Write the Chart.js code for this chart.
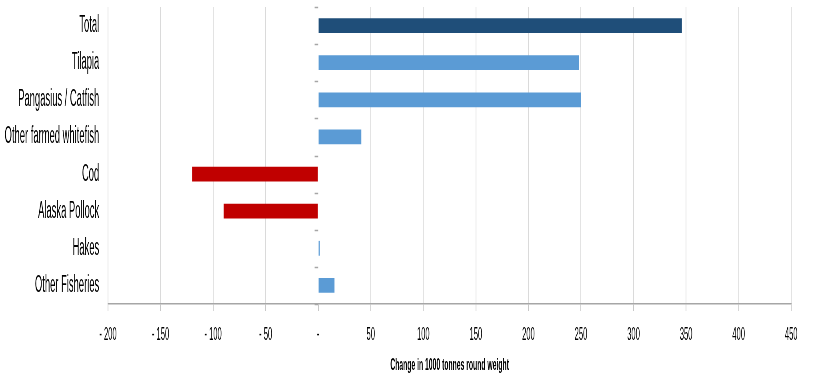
<!DOCTYPE html>
<html>
<head>
<meta charset="utf-8">
<script src="https://cdn.jsdelivr.net/npm/chart.js@4"></script>
<style>
  html, body { margin: 0; padding: 0; background: #ffffff; overflow: hidden; }
  #c { display: block; width: 820px !important; height: 378px !important; }
</style>
</head>
<body>
<canvas id="c" width="2050" height="378" style="width:820px;height:378px;display:block"></canvas>
<script>
// ---- data ----
const categories = ['Total', 'Tilapia', 'Pangasius / Catfish', 'Other farmed whitefish', 'Cod', 'Alaska Pollock', 'Hakes', 'Other Fisheries'];
const changes = [346, 248, 250, 41, -120, -90, 1.5, 15.5];
const axisMin = -200;
const axisMax = 450;
const axisStep = 50;
const tickLabels = ['- 200', '- 150', '- 100', '- 50', '-', '50', '100', '150', '200', '250', '300', '350', '400', '450'];
const axisTitle = 'Change in 1000 tonnes round weight';

// The reference image is horizontally compressed; draw on a wider canvas and
// squeeze it to 820px with CSS so text and marks get the same look.
const FONT = "'Liberation Sans', Arial, sans-serif";

const zeroTicks = {
  id: 'zeroTicks',
  afterDatasetsDraw(chart) {
    const ctx = chart.ctx;
    const xs = chart.scales.x;
    const ys = chart.scales.y;
    const x0 = xs.getPixelForValue(0);
    ctx.save();
    ctx.strokeStyle = '#a6a6a6';
    ctx.lineWidth = 1.5;
    for (let i = 0; i <= categories.length; i++) {
      const y = Math.round(ys.getPixelForValue(i - 0.5)) + 0.5;
      ctx.beginPath();
      ctx.moveTo(x0 - 9, y);
      ctx.lineTo(x0, y);
      ctx.stroke();
    }
    ctx.restore();
  }
};

new Chart(document.getElementById('c'), {
  type: 'bar',
  data: {
    labels: categories,
    datasets: [{
      data: changes,
      backgroundColor: (c) => c.dataIndex === 0 ? '#1F4E79' : (c.raw < 0 ? '#C00000' : '#5B9BD5'),
      borderWidth: 0,
      barPercentage: 0.4,
      categoryPercentage: 1.0
    }]
  },
  options: {
    indexAxis: 'y',
    responsive: false,
    animation: false,
    devicePixelRatio: 1,
    layout: { padding: { top: 7, left: 0, right: 72, bottom: 0 } },
    plugins: {
      legend: { display: false },
      tooltip: { enabled: false },
      title: { display: false }
    },
    scales: {
      x: {
        type: 'linear',
        min: axisMin,
        max: axisMax,
        afterFit: (s) => { s.height = 74; s.paddingLeft = 0; s.paddingRight = 0; },
        ticks: {
          stepSize: axisStep,
          autoSkip: false,
          maxRotation: 0,
          padding: 12,
          color: '#000000',
          font: { family: FONT, size: 19 },
          callback: (v) => tickLabels[Math.round((v - axisMin) / axisStep)]
        },
        grid: {
          color: (c) => (c.tick && c.tick.value === 0) ? 'rgba(0,0,0,0)' : '#dadada',
          lineWidth: 2,
          tickColor: '#c8c8c8',
          tickLength: 7,
          tickWidth: 2
        },
        border: { display: true, color: '#a6a6a6', width: 1.5, dash: [] },
        title: {
          display: true,
          text: axisTitle,
          color: '#000000',
          font: { family: FONT, size: 17, weight: 'bold' },
          padding: { top: 0, bottom: 2 }
        }
      },
      y: {
        type: 'category',
        afterFit: (s) => { s.width = 270; s.paddingTop = 0; s.paddingBottom = 0; },
        ticks: {
          padding: 22,
          color: '#000000',
          font: { family: FONT, size: 23.5 }
        },
        grid: { display: false, drawTicks: false },
        border: { display: false }
      }
    }
  },
  plugins: [zeroTicks]
});
</script>
</body>
</html>
